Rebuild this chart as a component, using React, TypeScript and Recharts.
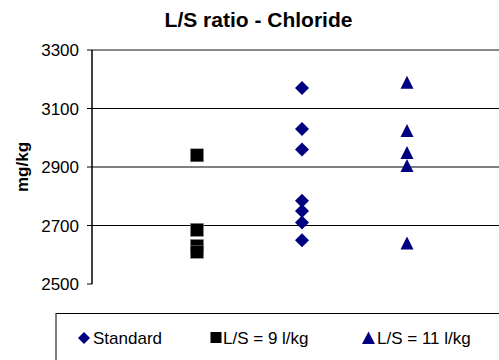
import React from 'react';
import { ScatterChart, Scatter, XAxis, YAxis, CartesianGrid, ReferenceLine } from 'recharts';

const chartTitle = 'L/S ratio - Chloride';
const yAxisLabel = 'mg/kg';
const seriesNames = ['Standard', 'L/S = 9 l/kg', 'L/S = 11 l/kg'];
const standardValues = [3170, 3030, 2960, 2785, 2750, 2710, 2650];
const ls9Values = [2940, 2685, 2630, 2610];
const ls11Values = [3190, 3025, 2950, 2905, 2640];
const categoryPositions = [1, 2, 3]; // L/S=9, Standard, L/S=11
const yTicks = [2500, 2700, 2900, 3100, 3300];

const standardData = standardValues.map((y) => ({ x: categoryPositions[1], y }));
const ls9Data = ls9Values.map((y) => ({ x: categoryPositions[0], y }));
const ls11Data = ls11Values.map((y) => ({ x: categoryPositions[2], y }));

const NAVY = '#000080';
const FONT = "'Liberation Sans', Arial, sans-serif";

const Diamond = (props: any) => {
  const { cx, cy } = props;
  const r = 7;
  return <path d={`M${cx},${cy - r}L${cx + r},${cy}L${cx},${cy + r}L${cx - r},${cy}Z`} fill={NAVY} />;
};
const Square = (props: any) => {
  const { cx, cy } = props;
  const h = 6.5;
  return <rect x={cx - h} y={cy - h} width={h * 2} height={h * 2} fill="#000" stroke="#888" strokeWidth={0.5} />;
};
const Triangle = (props: any) => {
  const { cx, cy } = props;
  const h = 6.5;
  return <path d={`M${cx},${cy - h}L${cx + h},${cy + h}L${cx - h},${cy + h}Z`} fill={NAVY} />;
};

const Overlay = () => (
  <svg width={499} height={360} style={{ position: 'absolute', left: 0, top: 0, pointerEvents: 'none' }}>
    <text x={258.5} y={27} textAnchor="middle" fontSize={21} fontWeight="bold" fontFamily={FONT} fill="#000">
      {chartTitle}
    </text>
    <text
      x={0}
      y={0}
      transform="translate(28,167) rotate(-90)"
      textAnchor="middle"
      fontSize={17}
      fontWeight="bold"
      fontFamily={FONT}
      fill="#000"
    >
      {yAxisLabel}
    </text>
    <rect x={56} y={313.5} width={470} height={60} fill="#fff" stroke="#000" strokeWidth={1} />
    <path d="M84,332L90,338L84,344L78,338Z" fill={NAVY} />
    <text x={93} y={344} fontSize={17} fontFamily={FONT} fill="#000">{seriesNames[0]}</text>
    <rect x={210.5} y={332} width={11} height={11} fill="#000" />
    <text x={223} y={344} fontSize={17} fontFamily={FONT} fill="#000">{seriesNames[1]}</text>
    <path d="M368.5,331.5L375,344L362,344Z" fill={NAVY} />
    <text x={377} y={344} fontSize={17} fontFamily={FONT} fill="#000">{seriesNames[2]}</text>
  </svg>
);

export default function App() {
  return (
    <div
      style={{
        position: 'absolute',
        left: 0,
        top: 0,
        width: 499,
        height: 360,
        overflow: 'hidden',
        background: '#fff',
        fontFamily: FONT,
      }}
    >
      <div style={{ position: 'absolute', left: 0, top: 0 }}>
        <ScatterChart width={530} height={360} margin={{ top: 50, right: 18, bottom: 76, left: 0 }}>
          <CartesianGrid horizontal vertical={false} stroke="#000" horizontalValues={[2700, 2900, 3100]} />
          <ReferenceLine y={3300} stroke="#888" strokeWidth={2} />
          <XAxis
            type="number"
            dataKey="x"
            domain={[0, 4]}
            tick={false}
            tickLine={false}
            height={0}
            axisLine={{ stroke: '#000', strokeWidth: 1.5 }}
          />
          <YAxis
            type="number"
            dataKey="y"
            domain={[2500, 3300]}
            ticks={yTicks}
            width={92}
            axisLine={{ stroke: '#000', strokeWidth: 1.5 }}
            tickLine={{ stroke: '#000' }}
            tickSize={5}
            tickMargin={8}
            tick={{ fill: '#000', fontSize: 17, fontFamily: FONT }}
            interval={0}
          />
          <Scatter name={seriesNames[0]} data={standardData} shape={Diamond} isAnimationActive={false} />
          <Scatter name={seriesNames[1]} data={ls9Data} shape={Square} isAnimationActive={false} />
          <Scatter name={seriesNames[2]} data={ls11Data} shape={Triangle} isAnimationActive={false} />
        </ScatterChart>
      </div>
      <Overlay />
    </div>
  );
}
